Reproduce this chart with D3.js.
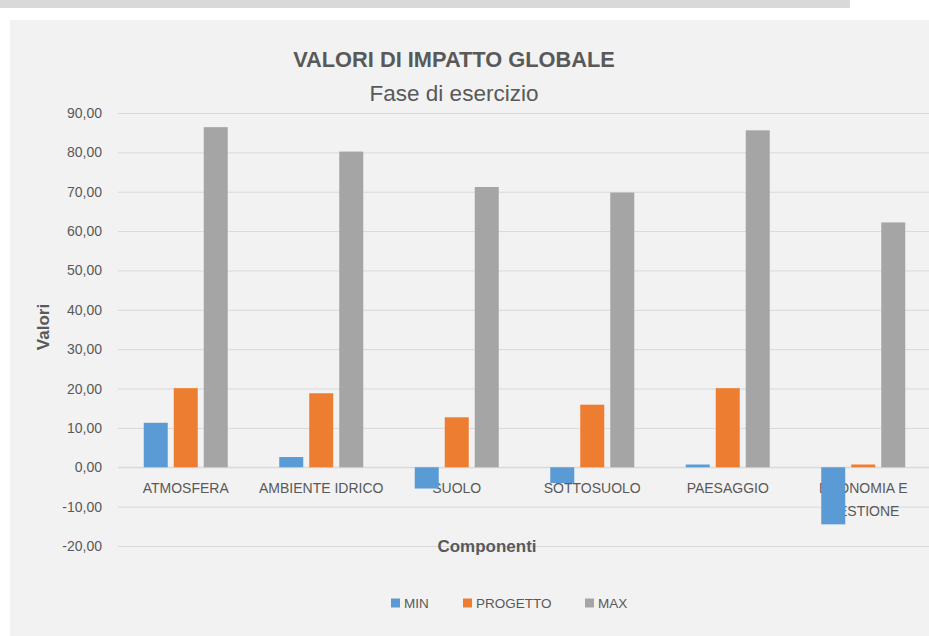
<!DOCTYPE html>
<html><head><meta charset="utf-8">
<script src="https://cdn.jsdelivr.net/npm/d3@7"></script>
<style>body{margin:0;background:#fff;} svg{display:block;font-family:"Liberation Sans",Arial,sans-serif;}</style>
</head><body>
<svg id="c" width="929" height="636"></svg>
<script>
const categories = ["ATMOSFERA","AMBIENTE IDRICO","SUOLO","SOTTOSUOLO","PAESAGGIO","ECONOMIA E GESTIONE"];
const seriesNames = ["MIN","PROGETTO","MAX"];
const minValues = [11.3, 2.6, -5.4, -4.0, 0.7, -14.5];
const progettoValues = [20.1, 18.8, 12.7, 15.9, 20.1, 0.7];
const maxValues = [86.4, 80.2, 71.2, 69.8, 85.6, 62.2];
const yTicks = [90,80,70,60,50,40,30,20,10,0,-10,-20];
const colors = ["#5B9BD5","#ED7D31","#A5A5A5"];

const svg = d3.select("#c");
// top grey band and chart background
svg.append("rect").attr("x",0).attr("y",0).attr("width",850).attr("height",8).attr("fill","#d9d9d9");
svg.append("rect").attr("x",10).attr("y",20).attr("width",919).attr("height",616).attr("fill","#f2f2f2");

const left = 118, right = 931;
const y = d3.scaleLinear().domain([-20,90]).range([546,113]);
const x0 = d3.scaleBand().domain(categories).range([left,right]).padding(0);
const bw = x0.bandwidth();
const groupW = 84;
const x1 = d3.scaleBand().domain(seriesNames).range([(bw-groupW)/2,(bw+groupW)/2]).paddingInner(0.2).paddingOuter(0);

const fmt = v => d3.format(".2f")(v).replace(".",",").replace("\u2212","-");

// gridlines
const yAxis = d3.axisLeft(y).tickValues(yTicks).tickSize(-(right-left)).tickFormat(fmt).tickPadding(16);
const ga = svg.append("g").attr("transform",`translate(${left},0)`).call(yAxis);
ga.select(".domain").remove();
ga.selectAll(".tick line").attr("stroke","#d9d9d9").attr("stroke-width",1);
ga.selectAll(".tick text").attr("fill","#595959").attr("font-size",14).attr("font-family","Liberation Sans, Arial, sans-serif");

// x labels (drawn under bars, as in the reference)
const xAxis = d3.axisBottom(x0).tickSize(0).tickPadding(0);
const gx = svg.append("g").attr("transform",`translate(0,${y(0)})`).call(xAxis);
gx.select(".domain").remove();
gx.selectAll(".tick text").attr("fill","#595959").attr("font-size",14).attr("font-family","Liberation Sans, Arial, sans-serif").attr("dy",null).text(null)
  .each(function(d){
    const t = d3.select(this);
    const lines = d==="ECONOMIA E GESTIONE" ? ["ECONOMIA E","GESTIONE"] : [d];
    lines.forEach((l,k)=>t.append("tspan").attr("x",0).attr("y",26+k*23).text(l));
  });

// zero line
svg.append("line").attr("x1",left).attr("x2",right).attr("y1",y(0)).attr("y2",y(0)).attr("stroke","#d9d9d9");

// bars
const data = categories.map((c,i)=>({cat:c, vals:[minValues[i],progettoValues[i],maxValues[i]]}));
const groups = svg.append("g").selectAll("g").data(data).join("g")
  .attr("transform",d=>`translate(${x0(d.cat)},0)`);
groups.selectAll("rect").data(d=>d.vals.map((v,j)=>({s:seriesNames[j],v,j}))).join("rect")
  .attr("x",d=>x1(d.s)).attr("width",x1.bandwidth())
  .attr("y",d=>y(Math.max(0,d.v))).attr("height",d=>Math.abs(y(d.v)-y(0)))
  .attr("fill",d=>colors[d.j]);

// titles
svg.append("text").attr("x",454).attr("y",67).attr("text-anchor","middle").attr("font-size",21.8).attr("font-weight","bold").attr("fill","#595959").text("VALORI DI IMPATTO GLOBALE");
svg.append("text").attr("x",454).attr("y",101).attr("text-anchor","middle").attr("font-size",22.5).attr("fill","#595959").text("Fase di esercizio");
svg.append("text").attr("transform","translate(49,327) rotate(-90)").attr("text-anchor","middle").attr("font-size",17).attr("font-weight","bold").attr("fill","#595959").text("Valori");
svg.append("text").attr("x",487).attr("y",552).attr("text-anchor","middle").attr("font-size",17).attr("font-weight","bold").attr("fill","#595959").text("Componenti");

// legend
const legX = [391,463,585];
const leg = svg.append("g").selectAll("g").data(seriesNames).join("g")
  .attr("transform",(d,i)=>`translate(${legX[i]},603)`);
leg.append("rect").attr("x",0).attr("y",-4.5).attr("width",9).attr("height",9).attr("fill",(d,i)=>colors[i]);
leg.append("text").attr("x",13).attr("y",5).attr("font-size",13.5).attr("fill","#595959").text(d=>d);
</script>
</body></html>
